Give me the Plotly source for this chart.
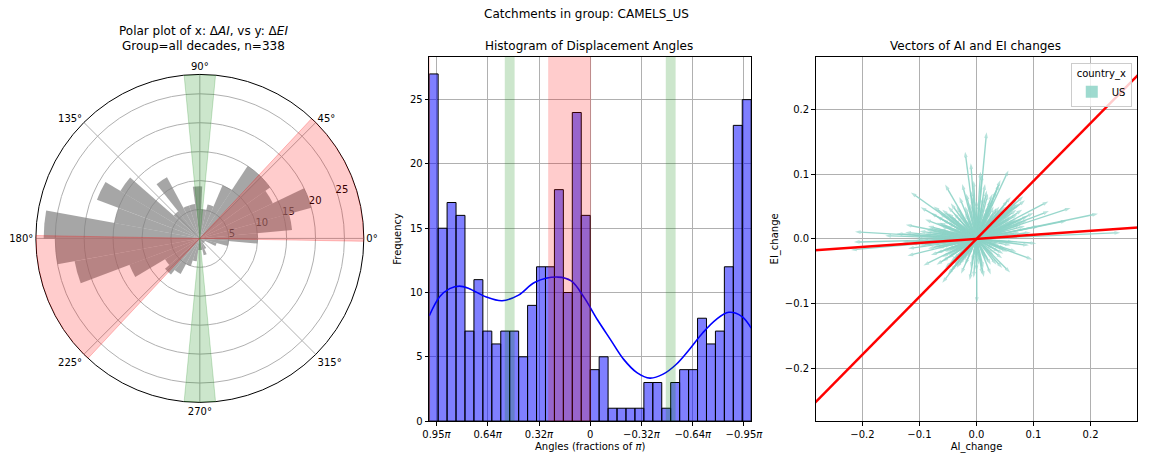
import numpy as np
import plotly.graph_objects as go

# ---------------- data ----------------
# polar histogram: 35 bins spanning -180..180 deg (counts, ascending angle)
polar_counts = [25, 22, 13, 7, 8, 7, 5, 4, 2, 2, 3, 2, 1, 1, 1, 3, 5, 10, 16, 20,
                14, 15, 15, 10, 6, 5, 9, 6, 6, 12, 6, 16, 19, 15, 27]
polar_edges_deg = [-180.0, 180.0]

# middle histogram: 36 bins, listed left->right as drawn (angle +pi ... -pi)
hist_counts = [27, 15, 17, 16, 7, 11, 7, 6, 7, 7, 5, 9, 12, 12, 18, 10, 24, 16,
               4, 5, 1, 1, 1, 1, 3, 3, 1, 3, 4, 4, 8, 6, 7, 12, 23, 25]

# KDE curve (angle in fractions of pi, frequency)
kde_angle = [1.0, 0.935, 0.873, 0.812, 0.751, 0.649, 0.547, 0.445, 0.343, 0.2,
             0.118, 0.037, -0.045, -0.126, -0.208, -0.29, -0.371, -0.453, -0.535,
             -0.616, -0.698, -0.78, -0.861, -0.943, -1.0]
kde_freq = [8.18, 9.67, 10.3, 10.5, 10.3, 9.67, 9.36, 9.8, 10.8, 11.2,
            10.9, 9.6, 7.88, 6.34, 4.8, 3.77, 3.34, 3.65, 4.42,
            5.57, 6.85, 7.88, 8.46, 8.13, 7.23]

hist_tickvals = [0.955, 0.637, 0.318, 0.0, -0.318, -0.637, -0.955]
hist_ticktext = ['0.95<i>π</i>', '0.64<i>π</i>', '0.32<i>π</i>', '0',
                 '−0.32<i>π</i>', '−0.64<i>π</i>', '−0.95<i>π</i>']

red_span_deg = [-1.0, 47.0]     # and the same +180
green_span_deg = [84.5, 95.5]   # and the same +180

# vectors (AI_change, EI_change) read /
vectors = [
    # long, clearly visible arrows
    (0.0177, 0.165), (-0.020, 0.135), (-0.115, 0.072), (-0.213, 0.011), (-0.215, -0.005),
    (-0.220, -0.017), (-0.121, -0.026), (-0.093, -0.041), (-0.060, -0.068), (-0.012, -0.064),
    (0.0006, -0.099), (0.059, -0.052), (0.098, -0.032), (0.105, -0.007), (0.252, 0.0097),
    (0.213, 0.039), (0.165, 0.048), (0.158, 0.028), (0.126, 0.058), (0.127, 0.043),
    (0.082, 0.066), (0.056, 0.106), (0.042, 0.091), (0.007, 0.104), (-0.010, 0.117),
    (-0.055, 0.084), (-0.098, 0.049), (-0.124, 0.022), (-0.095, -0.006), (0.092, -0.010),
    (0.070, 0.053), (-0.084, 0.017), (-0.038, -0.039), (-0.027, -0.054), (0.013, -0.059),
    (0.047, -0.023),
    # medium arrows
    (0.06, 0.01), (0.05, 0.02), (0.07, 0.03), (0.045, 0.035), (0.08, 0.045), (0.065, 0.05),
    (0.04, 0.04), (0.055, 0.06), (0.03, 0.03), (0.085, 0.02), (0.075, 0.01), (0.09, 0.035),
    (0.035, 0.015), (0.05, 0.045), (0.07, 0.06), (0.06, 0.065), (0.025, 0.02), (0.045, 0.01),
    (0.08, 0.03), (0.10, 0.04), (0.04, 0.025), (0.03, 0.01), (0.065, 0.025), (0.055, 0.04),
    (0.075, 0.055), (0.02, 0.005), (0.095, 0.01), (0.11, 0.02), (0.06, 0.035), (0.04, 0.05),
    (0.05, 0.03), (0.085, 0.06), (0.03, 0.04), (0.07, 0.045),
    (0.03, 0.06), (0.02, 0.07), (0.01, 0.05), (0.0, 0.06), (-0.01, 0.075), (0.015, 0.085),
    (-0.02, 0.05), (0.035, 0.075), (0.005, 0.04), (-0.03, 0.065), (-0.015, 0.03), (0.025, 0.045),
    (-0.005, 0.09), (0.01, 0.10), (-0.025, 0.085), (0.04, 0.085), (0.02, 0.03),
    (-0.04, 0.04), (-0.05, 0.03), (-0.06, 0.045), (-0.03, 0.02), (-0.07, 0.035), (-0.045, 0.055),
    (-0.08, 0.04), (-0.055, 0.02), (-0.035, 0.035), (-0.065, 0.025), (-0.09, 0.03),
    (-0.025, 0.015), (-0.075, 0.05), (-0.05, 0.04),
    (-0.05, 0.005), (-0.06, -0.005), (-0.07, 0.01), (-0.08, 0.0), (-0.04, 0.003), (-0.09, 0.008),
    (-0.10, -0.01), (-0.055, -0.01), (-0.065, 0.015), (-0.075, -0.012), (-0.11, 0.005),
    (-0.045, -0.008), (-0.085, -0.015), (-0.03, 0.002), (-0.095, -0.003), (-0.14, 0.008),
    (-0.12, -0.015), (-0.06, -0.018), (-0.07, -0.022), (-0.05, -0.015), (-0.13, -0.005),
    (-0.16, 0.005), (-0.035, -0.01), (-0.08, -0.025),
    (-0.05, -0.025), (-0.04, -0.03), (-0.06, -0.035), (-0.03, -0.02), (-0.07, -0.04),
    (-0.035, -0.045), (-0.025, -0.035), (-0.045, -0.05), (-0.02, -0.04), (-0.055, -0.045),
    (-0.01, -0.045), (0.0, -0.05), (0.005, -0.03), (-0.005, -0.06), (0.01, -0.055),
    (0.02, -0.035), (0.03, -0.025), (0.04, -0.02), (0.05, -0.015), (0.06, -0.01),
    (0.045, -0.03), (0.07, -0.02), (0.035, -0.04),
    # short arrows of the dense centre
    (0.03, 0.005), (0.04, 0.008), (0.025, 0.012), (0.05, 0.012), (0.035, 0.02), (0.045, 0.018),
    (0.02, 0.008), (0.055, 0.015), (0.04, 0.015), (0.03, 0.018), (0.06, 0.022), (0.025, 0.015),
    (0.038, 0.028), (0.048, 0.026), (0.028, 0.022), (0.058, 0.03), (0.02, 0.016), (0.042, 0.034),
    (0.032, 0.026), (0.052, 0.038), (0.026, 0.024), (0.036, 0.036), (0.046, 0.044),
    (0.022, 0.022), (0.03, 0.035), (0.04, 0.045), (0.018, 0.02), (0.062, 0.042), (0.072, 0.038),
    (0.068, 0.028), (0.078, 0.022), (0.088, 0.028), (0.05, 0.05), (0.035, 0.048), (0.058, 0.052),
    (0.015, 0.04), (0.01, 0.03), (0.02, 0.05), (0.005, 0.055), (-0.005, 0.045), (0.025, 0.06),
    (0.012, 0.065), (-0.012, 0.055), (0.018, 0.075), (-0.018, 0.07), (0.03, 0.05), (0.0, 0.035),
    (0.028, 0.07), (-0.008, 0.065),
    (-0.02, 0.03), (-0.03, 0.04), (-0.04, 0.03), (-0.025, 0.025), (-0.035, 0.05), (-0.045, 0.035),
    (-0.055, 0.04), (-0.06, 0.03), (-0.02, 0.04), (-0.05, 0.05), (-0.065, 0.04), (-0.04, 0.02),
    (-0.03, 0.015), (-0.07, 0.025), (-0.085, 0.02), (-0.05, 0.025),
    (-0.02, 0.004), (-0.025, -0.003), (-0.035, 0.006), (-0.04, -0.004), (-0.045, 0.01),
    (-0.05, -0.003), (-0.055, 0.008), (-0.06, 0.012), (-0.065, -0.006), (-0.07, 0.004),
    (-0.075, 0.016), (-0.08, 0.01), (-0.03, 0.01), (-0.028, -0.008), (-0.038, -0.012),
    (-0.048, 0.014), (-0.058, 0.002), (-0.068, -0.014), (-0.088, 0.014), (-0.10, 0.012),
    (-0.09, -0.008), (-0.105, 0.0), (-0.115, -0.008), (-0.125, 0.01), (-0.045, -0.018),
    (-0.055, -0.02), (-0.04, 0.016), (-0.062, 0.02),
    (-0.03, -0.015), (-0.04, -0.02), (-0.05, -0.03), (-0.025, -0.025), (-0.035, -0.03),
    (-0.045, -0.035), (-0.03, -0.04), (-0.02, -0.03), (-0.06, -0.028), (-0.04, -0.045),
    (-0.015, -0.025), (-0.05, -0.055),
    (-0.008, -0.035), (0.004, -0.04), (-0.004, -0.025), (0.012, -0.045), (0.015, -0.03),
    (0.025, -0.04), (0.03, -0.015), (0.04, -0.01), (0.05, -0.005), (0.035, -0.008),
    (0.055, -0.02), (0.02, -0.02), (0.065, -0.005), (0.045, -0.045), (0.025, -0.055),
]
ai_change = [v[0] for v in vectors]
ei_change = [v[1] for v in vectors]

fit_slopes = [0.896, 0.0625]

# ---------------- styling ----------------
FONT = "DejaVu Sans"
GRID = "#b0b0b0"
TEAL = "rgba(141,211,199,0.9)"
RMAX = 28.35
XLIM = 0.282

fig = go.Figure()

# ---- polar panel ----
pe = np.linspace(polar_edges_deg[0], polar_edges_deg[1], len(polar_counts) + 1)
pc = (pe[:-1] + pe[1:]) / 2
fig.add_trace(go.Barpolar(r=polar_counts, theta=pc, width=[pe[1] - pe[0]] * len(pc),
                          marker=dict(color="rgba(128,128,128,0.7)", line=dict(width=0)),
                          showlegend=False, subplot="polar"))
red_c = (red_span_deg[0] + red_span_deg[1]) / 2
red_w = red_span_deg[1] - red_span_deg[0]
fig.add_trace(go.Barpolar(r=[RMAX, RMAX], theta=[red_c, red_c + 180], width=[red_w, red_w],
                          marker=dict(color="rgba(255,0,0,0.2)",
                                      line=dict(width=1, color="rgba(255,0,0,0.25)")),
                          showlegend=False, subplot="polar"))
gr_c = (green_span_deg[0] + green_span_deg[1]) / 2
gr_w = green_span_deg[1] - green_span_deg[0]
fig.add_trace(go.Barpolar(r=[RMAX, RMAX], theta=[gr_c, gr_c + 180], width=[gr_w, gr_w],
                          marker=dict(color="rgba(0,128,0,0.2)",
                                      line=dict(width=1, color="rgba(0,128,0,0.2)")),
                          showlegend=False, subplot="polar"))

# ---- histogram panel ----
nb = len(hist_counts)
edges = np.linspace(1, -1, nb + 1)
centers = (edges[:-1] + edges[1:]) / 2
fig.add_trace(go.Bar(x=centers, y=hist_counts, width=2 / nb,
                     marker=dict(color="rgba(0,0,255,0.5)", line=dict(color="black", width=1)),
                     showlegend=False, xaxis="x2", yaxis="y2"))
fig.add_trace(go.Scatter(x=kde_angle, y=kde_freq, mode="lines",
                         line=dict(color="blue", width=1.6, shape="spline"),
                         showlegend=False, xaxis="x2", yaxis="y2"))

shapes = []
for off in (0, 180):
    shapes.append(dict(type="rect", xref="x2", yref="y2 domain",
                       x0=(red_span_deg[0] + off) / 180, x1=(red_span_deg[1] + off) / 180,
                       y0=0, y1=1, fillcolor="rgba(255,0,0,0.2)", line=dict(width=0),
                       layer="above"))
for sgn in (1, -1):
    shapes.append(dict(type="rect", xref="x2", yref="y2 domain",
                       x0=sgn * green_span_deg[0] / 180, x1=sgn * green_span_deg[1] / 180,
                       y0=0, y1=1, fillcolor="rgba(0,128,0,0.2)", line=dict(width=0),
                       layer="above"))

# ---- vectors panel ----
vx, vy, vs = [], [], []
for a, e in zip(ai_change, ei_change):
    vx += [0, a, None]
    vy += [0, e, None]
    vs += [0, 6, 0]
fig.add_trace(go.Scatter(x=vx, y=vy, mode="lines+markers",
                         line=dict(color=TEAL, width=1.4),
                         marker=dict(symbol="arrow", size=vs, angleref="previous", color=TEAL,
                                     line=dict(width=0)),
                         showlegend=False, xaxis="x3", yaxis="y3", hoverinfo="skip"))
lx = np.array([-0.35, 0.35])
for s in fit_slopes:
    fig.add_trace(go.Scatter(x=lx, y=s * lx, mode="lines", line=dict(color="red", width=2.5),
                             showlegend=False, xaxis="x3", yaxis="y3"))
fig.add_trace(go.Bar(x=[0], y=[0], name="US", marker=dict(color="rgba(141,211,199,0.85)",
                                                         line=dict(width=0)),
                     xaxis="x3", yaxis="y3", showlegend=True))

axis_common = dict(showline=True, mirror=True, linecolor="black", linewidth=1,
                   ticks="outside", ticklen=3.5, tickcolor="black", showgrid=True,
                   gridcolor=GRID, gridwidth=0.8, zeroline=False,
                   tickfont=dict(size=10, color="black"))


def title_ann(text, x, y):
    return dict(text=text, x=x, y=y, xref="paper", yref="paper", xanchor="center",
                yanchor="middle", showarrow=False, font=dict(size=12))


fig.update_layout(
    width=1150, height=463, margin=dict(l=0, r=0, t=0, b=0),
    paper_bgcolor="white", plot_bgcolor="white",
    font=dict(family=FONT, size=10, color="black"),
    barmode="overlay",
    polar=dict(
        domain=dict(x=[0.023, 0.318], y=[0.1214, 0.8375]),
        bgcolor="white",
        angularaxis=dict(rotation=0, direction="counterclockwise",
                         tickvals=[0, 45, 90, 135, 180, 225, 270, 315],
                         ticktext=["0°", "45°", "90°", "135°", "180°", "225°", "270°", "315°"],
                         showline=True, linecolor="black", linewidth=1, ticks="",
                         gridcolor=GRID, gridwidth=0.8, layer="below traces",
                         tickfont=dict(size=10, color="black")),
        radialaxis=dict(range=[0, RMAX], tickvals=[5, 10, 15, 20, 25], angle=22.5,
                        tickangle=22.5, showline=False, ticks="", gridcolor=GRID,
                        gridwidth=0.8, layer="below traces",
                        tickfont=dict(size=10, color="black")),
    ),
    xaxis2=dict(domain=[0.3733, 0.658], anchor="y2", range=[1, -1],
                tickvals=hist_tickvals, ticktext=hist_ticktext,
                title=dict(text="Angles (fractions of <i>π</i>)", font=dict(size=10), standoff=4),
                **axis_common),
    yaxis2=dict(domain=[0.0806, 0.8762], anchor="x2", range=[0, 28.34],
                tickvals=[0, 5, 10, 15, 20, 25],
                title=dict(text="Frequency", font=dict(size=10), standoff=6), **axis_common),
    xaxis3=dict(domain=[0.7150, 0.9994], anchor="y3", range=[-XLIM, XLIM],
                tickvals=[-0.2, -0.1, 0.0, 0.1, 0.2], tickformat=".1f",
                title=dict(text="AI_change", font=dict(size=10), standoff=4), **axis_common),
    yaxis3=dict(domain=[0.0806, 0.8762], anchor="x3", range=[-XLIM, XLIM],
                tickvals=[-0.2, -0.1, 0.0, 0.1, 0.2], tickformat=".1f",
                title=dict(text="EI_change", font=dict(size=10), standoff=4), **axis_common),
    legend=dict(x=0.9945, xanchor="right", y=0.862, yanchor="top",
                bgcolor="rgba(255,255,255,0.8)", bordercolor="#cccccc", borderwidth=1,
                font=dict(size=10), title=dict(text="country_x", side="top center",
                                               font=dict(size=10))),
    shapes=shapes,
    annotations=[
        title_ann("Catchments in group: CAMELS_US", 0.512, 1 - 14 / 463),
        title_ann("Polar plot of x: Δ<i>AI</i>, vs y: Δ<i>EI</i>", 0.174, 1 - 31 / 463),
        title_ann("Group=all decades, n=338", 0.174, 1 - 46 / 463),
        title_ann("Histogram of Displacement Angles", 0.5148, 1 - 46 / 463),
        title_ann("Vectors of AI and EI changes", 0.8565, 1 - 46 / 463),
    ],
)

fig.write_html("out.html")
